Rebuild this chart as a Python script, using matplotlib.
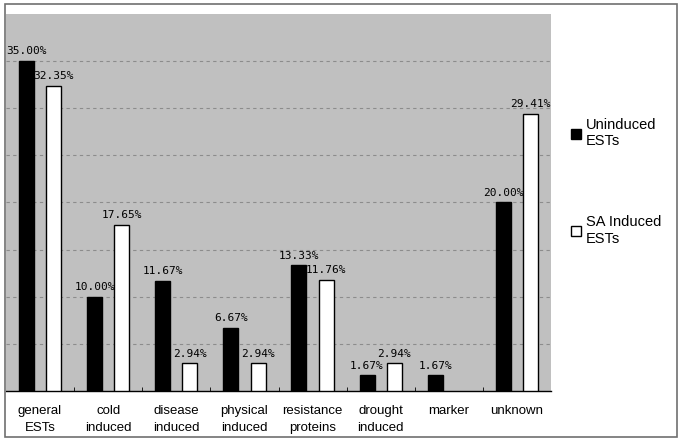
import numpy as np
import matplotlib
matplotlib.use("Agg")
import matplotlib.pyplot as plt
from matplotlib.patches import Rectangle

categories = ["general\nESTs", "cold\ninduced", "disease\ninduced", "physical\ninduced",
              "resistance\nproteins", "drought\ninduced", "marker", "unknown"]
uninduced = [35.00, 10.00, 11.67, 6.67, 13.33, 1.67, 1.67, 20.00]
sa_induced = [32.35, 17.65, 2.94, 2.94, 11.76, 2.94, None, 29.41]
series_names = ["Uninduced\nESTs", "SA Induced\nESTs"]

fig = plt.figure(figsize=(6.85, 4.44), dpi=100)
ax = fig.add_axes([6 / 685, 1 - 391 / 444, 545 / 685, 377 / 444])
ax.set_facecolor("#c0c0c0")

x = np.arange(len(categories))
w = 0.22
off = 0.2
# marker has no SA induced value, so no bar there
sa_x = [xi for xi, v in zip(x, sa_induced) if v is not None]
sa_v = [v for v in sa_induced if v is not None]
b1 = ax.bar(x - off, uninduced, w, color="black", edgecolor="black", linewidth=1,
            label=series_names[0], zorder=3)
b2 = ax.bar(np.array(sa_x) + off, sa_v, w, color="white", edgecolor="black", linewidth=1,
            label=series_names[1], zorder=3)

for xi, v in zip(x, uninduced):
    ax.text(xi - off, v + 0.5, f"{v:.2f}%", ha="center", va="bottom",
            fontsize=8, family="DejaVu Sans Mono", zorder=4)
for xi, v in zip(sa_x, sa_v):
    ax.text(xi + off, v + 0.5, f"{v:.2f}%", ha="center", va="bottom",
            fontsize=8, family="DejaVu Sans Mono", zorder=4)

ax.set_xlim(-0.5, len(categories) - 0.5)
ax.set_ylim(0, 40)
ax.set_yticks(np.arange(5, 40, 5))
ax.yaxis.grid(True, color="#8c8c8c", linestyle=(0, (3, 3)), linewidth=0.8, zorder=0)
ax.tick_params(axis="y", left=False, labelleft=False)

ax.set_xticks(x)
ax.set_xticklabels(categories, fontsize=9.5, family="Liberation Sans", linespacing=1.6)
ax.set_xticks(np.arange(0.5, len(categories) - 0.5), minor=True)
ax.tick_params(axis="x", which="major", length=0, pad=10)
ax.tick_params(axis="x", which="minor", length=3, direction="in", color="black")

for s in ["top", "right", "left"]:
    ax.spines[s].set_visible(False)
ax.spines["bottom"].set_color("black")
ax.spines["bottom"].set_linewidth(1)

leg = fig.legend(handles=[b1, b2], loc="upper left", bbox_to_anchor=(558 / 685, 1 - 105 / 444),
                 frameon=False, prop={"family": "Liberation Sans", "size": 10.5},
                 handlelength=0.7, handleheight=0.7, handletextpad=0.3, labelspacing=4.6)

fig.patches.append(Rectangle((5 / 685, 1 - 437 / 444), 672 / 685, 433 / 444,
                             transform=fig.transFigure, fill=False,
                             edgecolor="#707070", linewidth=1.2))

fig.savefig("out.png", dpi=100, facecolor="white")
